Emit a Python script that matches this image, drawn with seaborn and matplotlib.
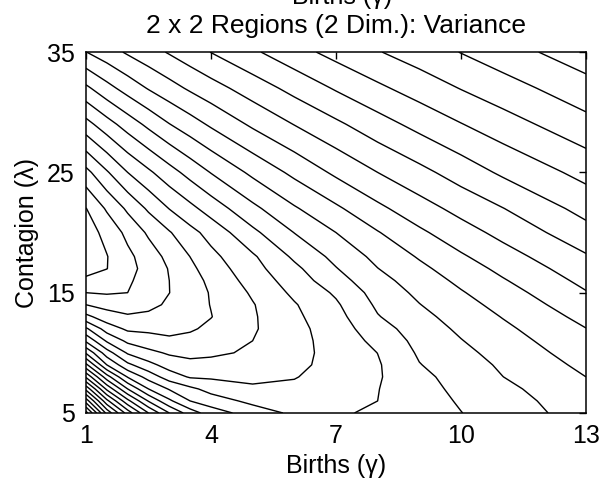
"""
Contour map of the variance over births and contagion (2 x 2 regions, 2 dims).
"""

import numpy as np
import pandas as pd
import matplotlib
matplotlib.use("Agg")
import matplotlib.pyplot as plt
import seaborn as sns


# grid
births = [1, 1.5, 2, 2.5, 3, 3.5, 4, 5, 6, 7, 8, 9, 10, 11, 13]
contagion = [5, 6, 7, 8, 9, 10, 11, 12, 13, 14, 15, 16, 17, 18, 20, 22, 25, 29, 32, 35]

# variance level at each grid node, one list per contagion row
var_05 = [23.4, 18.71, 15.56, 13.0, 11.0, 9.5, 8.5, 7.53, 6.8, 6.8, 7.25, 7.62, 7.98, 8.46, 9.45]
var_06 = [20.57, 16.29, 13.29, 10.93, 9.19, 8.0, 7.5, 6.74, 6.3, 6.55, 7.0, 7.56, 8.1, 8.61, 9.55]
var_07 = [17.71, 13.78, 11.0, 9.0, 7.91, 7.23, 6.65, 6.17, 6.2, 6.5, 6.97, 7.64, 8.24, 8.78, 9.7]
var_08 = [14.86, 11.44, 8.93, 7.6, 6.51, 5.9, 5.86, 5.75, 5.95, 6.41, 6.9, 7.74, 8.4, 8.99, 10.0]
var_09 = [12.25, 9.0, 7.23, 6.31, 5.57, 5.27, 5.29, 5.39, 5.85, 6.21, 6.9, 7.96, 8.56, 9.14, 10.24]
var_10 = [9.89, 7.46, 5.88, 5.27, 4.87, 4.74, 4.84, 5.13, 5.7, 6.32, 7.01, 8.13, 8.75, 9.34, 10.49]
var_11 = [7.83, 5.86, 4.78, 4.42, 4.2, 4.3, 4.5, 5.0, 5.68, 6.39, 7.27, 8.3, 8.96, 9.56, 10.73]
var_12 = [6.17, 4.54, 3.82, 3.79, 3.7, 3.88, 4.21, 4.89, 5.69, 6.51, 7.58, 8.5, 9.17, 9.79, 10.98]
var_13 = [4.27, 3.44, 3.12, 3.25, 3.45, 3.7, 3.97, 4.89, 5.8, 6.66, 7.94, 8.72, 9.4, 10.04, 11.29]
var_14 = [3.0, 2.67, 2.54, 2.7, 3.18, 3.6, 4.03, 4.94, 5.92, 6.86, 8.17, 8.97, 9.65, 10.31, 11.61]
var_15 = [2.0, 1.9, 2.0, 2.49, 2.99, 3.53, 4.07, 5.13, 6.2, 7.14, 8.4, 9.21, 9.92, 10.59, 11.94]
var_16 = [1.17, 1.55, 1.85, 2.42, 3.0, 3.61, 4.21, 5.4, 6.47, 7.6, 8.66, 9.48, 10.21, 10.91, 12.26]
var_17 = [0.7, 0.98, 1.67, 2.36, 3.06, 3.78, 4.45, 5.65, 6.77, 7.95, 8.98, 9.77, 10.52, 11.24, 12.58]
var_18 = [0.45, 0.96, 1.75, 2.52, 3.27, 4.01, 4.73, 5.86, 7.17, 8.28, 9.27, 10.09, 10.87, 11.59, 12.9]
var_20 = [0.55, 1.29, 2.27, 3.15, 3.92, 4.69, 5.35, 6.77, 8.02, 9.0, 9.94, 10.82, 11.59, 12.28, 13.65]
var_22 = [0.97, 2.13, 3.18, 4.16, 5.03, 5.73, 6.44, 7.76, 8.89, 9.83, 10.78, 11.59, 12.31, 12.97, 14.34]
var_25 = [2.69, 3.89, 5.0, 5.82, 6.61, 7.35, 8.04, 9.22, 10.24, 11.19, 12.0, 12.71, 13.45, 14.16, 15.32]
var_29 = [5.64, 6.59, 7.45, 8.24, 8.97, 9.57, 10.15, 11.17, 12.03, 12.81, 13.59, 14.31, 14.96, 15.56, 16.68]
var_32 = [7.79, 8.66, 9.41, 10.07, 10.63, 11.15, 11.61, 12.48, 13.31, 14.1, 14.81, 15.44, 16.04, 16.58, 17.61]
var_35 = [9.98, 10.57, 11.13, 11.62, 12.09, 12.56, 13.02, 13.84, 14.63, 15.33, 15.94, 16.49, 17.03, 17.55, 18.59]

contour_levels = list(range(1, 24))
x_ticks = [1, 4, 7, 10, 13]
y_ticks = [5, 15, 25, 35]


def setup_style():
    """Plain white MATLAB-like look."""
    sns.set_style("white")
    plt.rcParams['font.family'] = ['Liberation Sans', 'DejaVu Sans']
    plt.rcParams['axes.edgecolor'] = 'black'
    plt.rcParams['axes.linewidth'] = 1.1
    plt.rcParams['text.color'] = 'black'
    plt.rcParams['axes.labelcolor'] = 'black'
    plt.rcParams['xtick.color'] = 'black'
    plt.rcParams['ytick.color'] = 'black'


def plot_variance_contour(output_path='out.png'):
    setup_style()
    rows = [var_05, var_06, var_07, var_08, var_09, var_10, var_11, var_12,
            var_13, var_14, var_15, var_16, var_17, var_18, var_20, var_22,
            var_25, var_29, var_32, var_35]
    df = pd.DataFrame(rows, index=contagion, columns=births)

    fig = plt.figure(figsize=(6.15, 4.87), dpi=100)
    ax = fig.add_axes([0.1398, 0.152, 0.813, 0.741])

    ax.contour(df.columns.values, df.index.values, df.values,
               levels=contour_levels, colors='black', linewidths=1.0)

    ax.set_xlim(1, 13)
    ax.set_ylim(5, 35)
    ax.set_xticks(x_ticks)
    ax.set_yticks(y_ticks)
    ax.tick_params(direction='in', top=True, right=True, length=5,
                   width=1, labelsize=18, pad=8, colors='black')

    ax.set_xlabel('Births (γ)', fontsize=18, labelpad=4)
    ax.set_ylabel('Contagion (λ)', fontsize=18, labelpad=6)
    ax.set_title('2 x 2 Regions (2 Dim.): Variance', fontsize=19, pad=14)

    # clipped label left over above the title, as in the source figure
    fig.text(0.556, 0.992, 'Births (γ)', fontsize=18, ha='center', va='baseline')

    fig.savefig(output_path, dpi=100, facecolor='white')
    return fig


if __name__ == '__main__':
    plot_variance_contour()
